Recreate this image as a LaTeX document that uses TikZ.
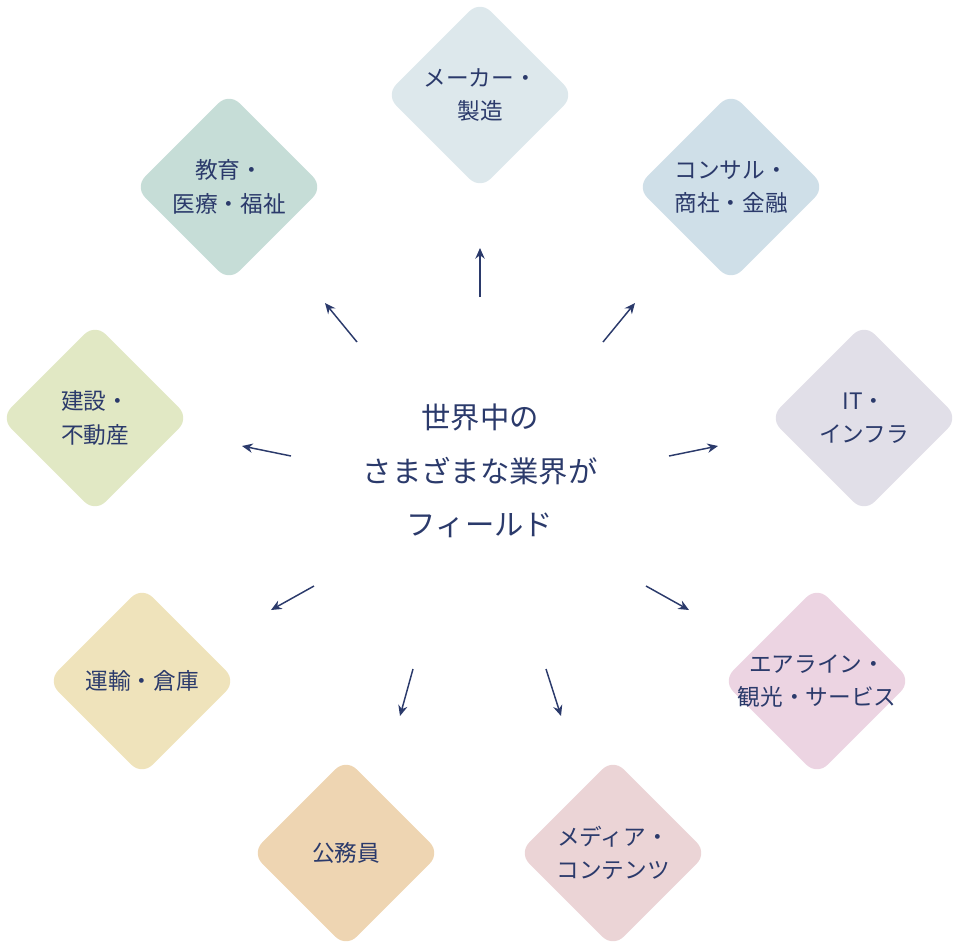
\documentclass[tikz,border=0pt]{standalone}
\usepackage{fontspec}
\usetikzlibrary{arrows.meta}
\setmainfont{Noto Sans CJK JP}
\definecolor{navy}{HTML}{2B3A6B}
\definecolor{cMaker}{HTML}{DDE8EC}
\definecolor{cEdu}{HTML}{C6DDD7}
\definecolor{cCons}{HTML}{CFDFE8}
\definecolor{cBuild}{HTML}{E1E8C4}
\definecolor{cIT}{HTML}{E1DFE8}
\definecolor{cTrans}{HTML}{EFE3BB}
\definecolor{cAir}{HTML}{ECD4E2}
\definecolor{cGov}{HTML}{EED5B2}
\definecolor{cMedia}{HTML}{EBD4D6}
\tikzset{
  field/.style={rectangle,rotate=45,minimum size=100pt,rounded corners=11pt,draw=none},
  label/.style={text=navy,font=\fontsize{17}{25}\selectfont,align=center},
  arr/.style={draw=navy,line width=1.1pt,-{Stealth[length=8pt,width=7pt]}}
}
\begin{document}
\begin{tikzpicture}[x=0.75pt,y=-0.75pt]
    \useasboundingbox (0,0) rectangle (960,950);
    \node (maker) [field,fill=cMaker] at (480,95) {};
    \node (edu) [field,fill=cEdu] at (229,187) {};
    \node (cons) [field,fill=cCons] at (731,187) {};
    \node (build) [field,fill=cBuild] at (95,418) {};
    \node (it) [field,fill=cIT] at (864,418) {};
    \node (trans) [field,fill=cTrans] at (142,681) {};
    \node (air) [field,fill=cAir] at (817,681) {};
    \node (gov) [field,fill=cGov] at (346,853) {};
    \node (media) [field,fill=cMedia] at (613,853) {};

    \node [label] at (maker) {メーカー・\\製造};
    \node [label] at (edu) {教育・\\医療・福祉};
    \node [label] at (cons) {コンサル・\\商社・金融};
    \node [label] at (build) {建設・\\不動産};
    \node [label] at (it) {IT・\\インフラ};
    \node [label] at (trans) {運輸・倉庫};
    \node [label] at (air) {エアライン・\\観光・サービス};
    \node [label] at (gov) {公務員};
    \node [label] at (media) {メディア・\\コンテンツ};

    \node (center) [text=navy,font=\fontsize{22}{40}\selectfont,align=center] at (480,471)
        {世界中の\\さまざまな業界が\\フィールド};

    \foreach \n/\sx/\sy/\ex/\ey in {1/480/297/480/248, 2/357/342/325/303, 3/603/342/635/303,
        4/291/456/242/446, 5/669/456/718/446, 6/314/586/271/610, 7/646/586/689/610,
        8/413/669/400/716, 9/546/669/561/716}{
        \coordinate (s\n) at (\sx,\sy);
        \coordinate (e\n) at (\ex,\ey);
        \draw [arr] (s\n) -- (e\n);
    }
\end{tikzpicture}
\end{document}
